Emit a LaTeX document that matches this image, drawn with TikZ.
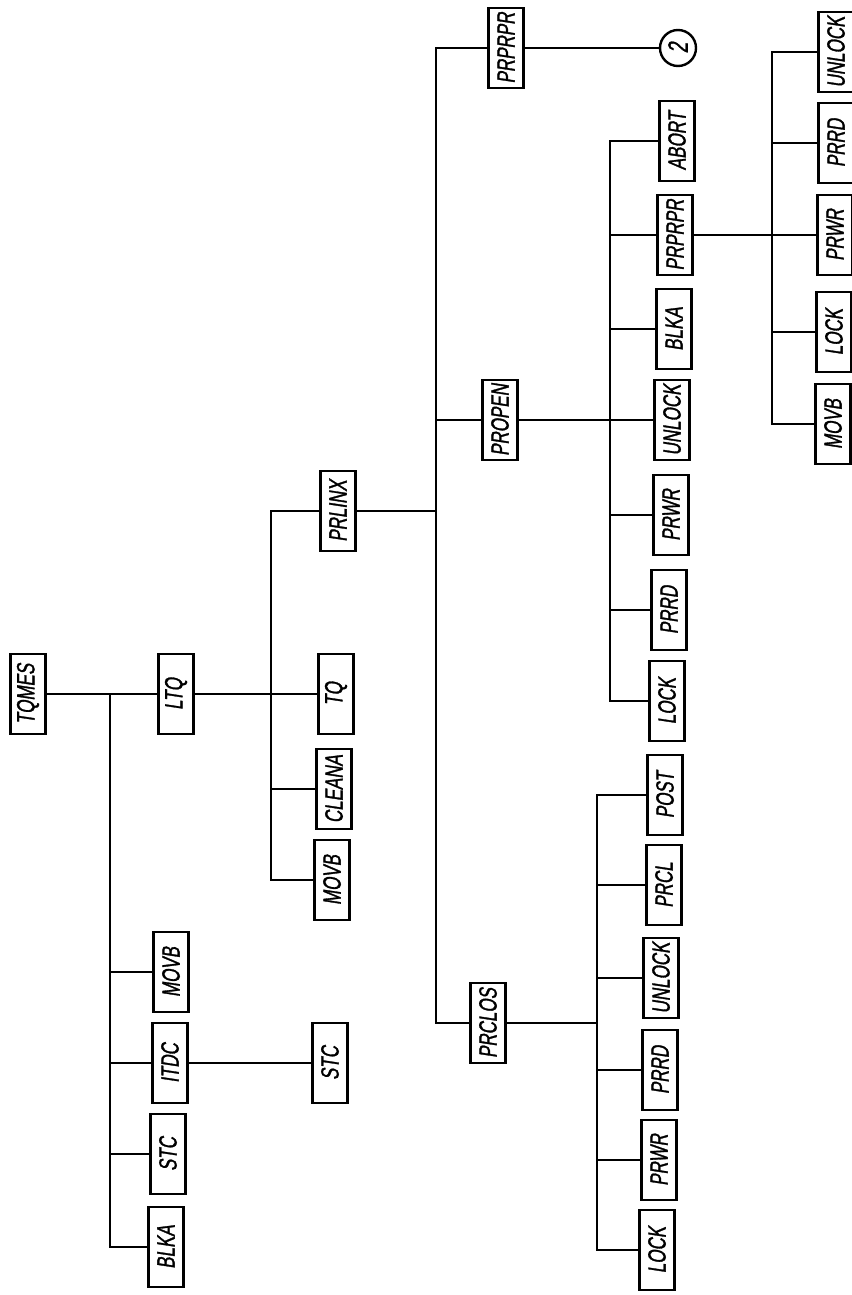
\documentclass[tikz,border=0pt]{standalone}
\usepackage{fontspec}
\usepackage{tikz}
\usetikzlibrary{positioning}
\newfontfamily\handfont[FakeStretch=0.68,FakeSlant=0.15,FakeBold=1.2]{Liberation Sans}

\begin{document}
\begin{tikzpicture}[
    x=0.5pt, y=-0.5pt,
    box/.style={rectangle, draw, line width=1.2pt, rotate=90, minimum width=40pt, minimum height=17.5pt, inner xsep=1.6pt, inner ysep=0.8pt, font=\handfont\fontsize{12.5}{13}\selectfont},
    ring/.style={circle, draw, line width=1.2pt, rotate=90, minimum size=18pt, inner sep=0pt, font=\handfont\fontsize{14}{15}\selectfont},
    link/.style={line width=1.1pt}
]
\useasboundingbox (0,0) rectangle (851,1295);

\node[box] (tqmes) at (28,694) {TQMES};

% first level
\coordinate (bus0) at (110,694);
\node[box] (ltq) at (176,694) {LTQ};
\node[box] (movb) at (171,972) {MOVB};
\node[box] (itdc) at (170,1063) {ITDC};
\node[box] (stc) at (168,1154) {STC};
\node[box] (blka) at (166,1247) {BLKA};

% second level
\coordinate (bus1) at (271,694);
\node[box] (stcb) at (330,1063) {STC};
\node[box] (prlinx) at (338,511) {PRLINX};
\node[box] (tq) at (336,694) {TQ};
\node[box] (cleana) at (334,789) {CLEANA};
\node[box] (movbb) at (332,880) {MOVB};

% third level
\coordinate (bus2) at (436,511);
\node[box] (prprpr) at (506,48) {PRPRPR};
\node[box] (propen) at (500,420) {PROPEN};
\node[box] (prclos) at (488,1023) {PRCLOS};
\node[ring] (two) at (678,48) {2};

% under PROPEN
\coordinate (bus3) at (610,420);
\node[box] (abort) at (677,141) {ABORT};
\node[box] (prprprb) at (675,235) {PRPRPR};
\node[box] (blkab) at (674,329) {BLKA};
\node[box] (unlockb) at (672,420) {UNLOCK};
\node[box] (prwrb) at (671,515) {PRWR};
\node[box] (prrdb) at (669,610) {PRRD};
\node[box] (lockb) at (667,701) {LOCK};

% under PRCLOS
\coordinate (bus4) at (597,1023);
\node[box] (post) at (665,795) {POST};
\node[box] (prcl) at (664,885) {PRCL};
\node[box] (unlockc) at (661,978) {UNLOCK};
\node[box] (prrdc) at (660,1070) {PRRD};
\node[box] (prwrc) at (659,1160) {PRWR};
\node[box] (lockc) at (657,1250) {LOCK};

% under PRPRPR
\coordinate (bus5) at (772,235);
\node[box] (unlockd) at (836,52) {UNLOCK};
\node[box] (prrdd) at (836,143) {PRRD};
\node[box] (prwrd) at (835,235) {PRWR};
\node[box] (lockd) at (834,332) {LOCK};
\node[box] (movbd) at (833,424) {MOVB};

\draw[link] (tqmes) -- (ltq);
\draw[link] (bus0) |- (movb) (bus0) |- (itdc) (bus0) |- (stc) (bus0) |- (blka);
\draw[link] (itdc) -- (stcb);
\draw[link] (ltq) -- (tq);
\draw[link] (bus1) |- (prlinx) (bus1) |- (cleana) (bus1) |- (movbb);
\draw[link] (prlinx) -- (bus2);
\draw[link] (bus2) |- (prprpr) (bus2) |- (propen) (bus2) |- (prclos);
\draw[link] (prprpr) -- (two);
\draw[link] (propen) -- (unlockb);
\draw[link] (bus3) |- (abort) (bus3) |- (prprprb) (bus3) |- (blkab) (bus3) |- (prwrb) (bus3) |- (prrdb) (bus3) |- (lockb);
\draw[link] (prclos) -- (bus4);
\draw[link] (bus4) |- (post) (bus4) |- (prcl) (bus4) |- (unlockc) (bus4) |- (prrdc) (bus4) |- (prwrc) (bus4) |- (lockc);
\draw[link] (prprprb) -- (prwrd);
\draw[link] (bus5) |- (unlockd) (bus5) |- (prrdd) (bus5) |- (lockd) (bus5) |- (movbd);

\end{tikzpicture}
\end{document}
